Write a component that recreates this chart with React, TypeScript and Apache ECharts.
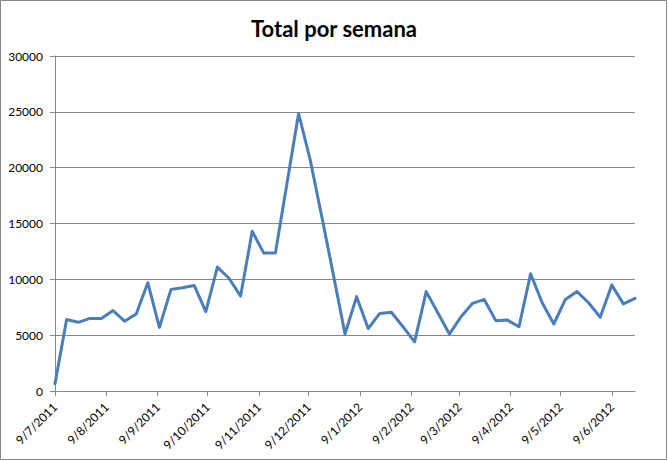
import React, { useEffect, useRef } from "react";
import * as echarts from "echarts";

const weekDates = [
  "2011-07-09", "2011-07-16", "2011-07-23", "2011-07-30",
  "2011-08-06", "2011-08-13", "2011-08-20", "2011-08-27",
  "2011-09-03", "2011-09-10", "2011-09-17", "2011-09-24",
  "2011-10-01", "2011-10-08", "2011-10-15", "2011-10-22", "2011-10-29",
  "2011-11-05", "2011-11-12", "2011-11-19", "2011-11-26",
  "2011-12-03", "2011-12-10", "2011-12-17", "2011-12-24", "2011-12-31",
  "2012-01-07", "2012-01-14", "2012-01-21", "2012-01-28",
  "2012-02-04", "2012-02-11", "2012-02-18", "2012-02-25",
  "2012-03-03", "2012-03-10", "2012-03-17", "2012-03-24", "2012-03-31",
  "2012-04-07", "2012-04-14", "2012-04-21", "2012-04-28",
  "2012-05-05", "2012-05-12", "2012-05-19", "2012-05-26",
  "2012-06-02", "2012-06-09", "2012-06-16", "2012-06-23",
];

const weeklyTotals = [
  650, 6400, 6150, 6500, 6500, 7200, 6250, 6900, 9700, 5700,
  9100, 9250, 9450, 7100, 11100, 10100, 8500, 14300, 12350, 12350,
  18600, 24850, 20700, 15600, 10400, 5100, 8450, 5600, 6950, 7050,
  5750, 4400, 8900, 7000, 5100, 6650, 7850, 8200, 6300, 6350,
  5750, 10500, 7900, 6000, 8200, 8900, 7900, 6600, 9500, 7800, 8300,
];

const tickDates = [
  "2011-07-09", "2011-08-09", "2011-09-09", "2011-10-09", "2011-11-09",
  "2011-12-09", "2012-01-09", "2012-02-09", "2012-03-09", "2012-04-09",
  "2012-05-09", "2012-06-09",
];

const yTicks = [0, 5000, 10000, 15000, 20000, 25000, 30000];

const DAY = 86400000;
const utc = (s: string) => {
  const [y, m, d] = s.split("-").map(Number);
  return Date.UTC(y, m - 1, d);
};
const START = utc(weekDates[0]);
const dayOf = (s: string) => Math.round((utc(s) - START) / DAY);

const fmt = (day: number) => {
  const d = new Date(START + Math.round(day) * DAY);
  return `${d.getUTCDate()}/${d.getUTCMonth() + 1}/${d.getUTCFullYear()}`;
};

export default function App() {
  const ref = useRef<HTMLDivElement>(null);
  useEffect(() => {
    if (!ref.current) return;
    const chart = echarts.init(ref.current, undefined, { renderer: "svg" });
    const tickDays = tickDates.map(dayOf);
    const grey = "#868686";
    const font = "Lato, 'Liberation Sans', sans-serif";
    chart.setOption({
      animation: false,
      backgroundColor: "#ffffff",
      title: {
        text: "Total por semana",
        left: "center",
        top: 12,
        textStyle: { fontFamily: font, fontSize: 22, fontWeight: "bold", color: "#000" },
      },
      grid: { left: 55, right: 33, top: 56, bottom: 70, containLabel: false },
      xAxis: {
        type: "value",
        min: 0,
        max: dayOf(weekDates[weekDates.length - 1]),
        axisLine: { show: true, onZero: false, lineStyle: { color: grey, width: 1 } },
        axisTick: { show: true, length: 5, customValues: tickDays, lineStyle: { color: grey } },
        axisLabel: {
          customValues: tickDays,
          formatter: (v: number) => fmt(v),
          rotate: 45,
          margin: 14,
          color: "#000",
          fontFamily: font,
          fontSize: 12,
          hideOverlap: false,
        },
        splitLine: { show: false },
      },
      yAxis: {
        type: "value",
        min: yTicks[0],
        max: yTicks[yTicks.length - 1],
        interval: 5000,
        axisLine: { show: true, lineStyle: { color: grey, width: 1 } },
        axisTick: { show: true, length: 5, lineStyle: { color: grey } },
        axisLabel: {
          color: "#000",
          fontFamily: font,
          fontSize: 12,
          margin: 12,
          formatter: (v: number) => String(v),
        },
        splitLine: { show: true, lineStyle: { color: grey, width: 1 } },
      },
      graphic: [
        {
          type: "rect",
          shape: { x: 0.5, y: 0.5, width: 666, height: 459 },
          style: { fill: "none", stroke: grey, lineWidth: 1 },
          silent: true,
          z: 100,
        },
      ],
      series: [
        {
          type: "line",
          data: weekDates.map((d, i) => [dayOf(d), weeklyTotals[i]]),
          showSymbol: false,
          symbol: "none",
          lineStyle: { color: "#4A7EBB", width: 3, join: "round", cap: "round" },
          itemStyle: { color: "#4A7EBB" },
        },
      ],
    });
    return () => chart.dispose();
  }, []);
  return (
    <div
      ref={ref}
      style={{ position: "fixed", left: 0, top: 0, width: 668, height: 461, background: "#fff" }}
    />
  );
}
